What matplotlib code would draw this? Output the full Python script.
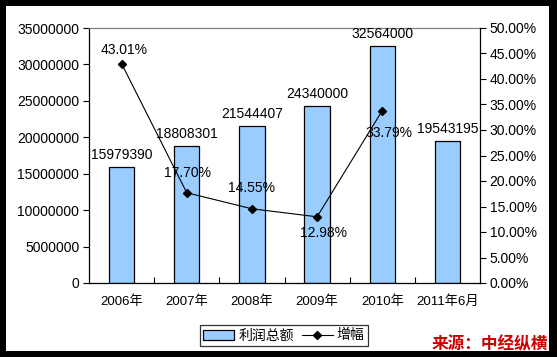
import matplotlib
matplotlib.use("Agg")
import matplotlib.pyplot as plt
from matplotlib.lines import Line2D
from matplotlib.patches import Patch
from matplotlib.ticker import FuncFormatter, MultipleLocator

plt.rcParams['font.family'] = ['Liberation Sans', 'Noto Sans CJK SC', 'DejaVu Sans']

categories = ["2006年", "2007年", "2008年", "2009年", "2010年", "2011年6月"]
profit = [15979390, 18808301, 21544407, 24340000, 32564000, 19543195]
growth = [43.01, 17.70, 14.55, 12.98, 33.79]
growth_text = ["43.01%", "17.70%", "14.55%", "12.98%", "33.79%"]
# label offsets in pixels (dx, dy) relative to the point
growth_offsets = [(3, 14), (1, 20), (0, 21), (6, -16), (7, -22)]

W, H = 557, 357
fig = plt.figure(figsize=(W / 100, H / 100), dpi=100, facecolor="black")

# white card inside the black frame
bg = fig.add_axes([6 / W, 6 / H, 543 / W, 345 / H], zorder=-10)
bg.set_facecolor("white")
bg.set_xticks([])
bg.set_yticks([])
for s in bg.spines.values():
    s.set_visible(False)

ax = fig.add_axes([89 / W, 1 - 283 / H, 391 / W, 255 / H])
ax.set_facecolor("white")
x = list(range(len(categories)))
ax.bar(x, profit, width=0.39, color="#99CCFF", edgecolor="black", linewidth=0.9, zorder=2)
ax.set_xlim(-0.5, len(categories) - 0.5)
ax.set_ylim(0, 35000000)
ax.yaxis.set_major_locator(MultipleLocator(5000000))
ax.yaxis.set_major_formatter(FuncFormatter(lambda v, p: f"{int(v)}"))
ax.set_xticks(x)
ax.set_xticklabels(categories)
ax.set_xticks([i + 0.5 for i in range(len(categories) - 1)], minor=True)
ax.tick_params(axis="x", which="major", length=0, pad=9, labelsize=9.5)
ax.tick_params(axis="x", which="minor", direction="in", length=4, width=0.8)
ax.tick_params(axis="y", direction="out", length=4, width=0.8, labelsize=10, pad=3)

for s in ["left", "bottom"]:
    ax.spines[s].set_color("black")
    ax.spines[s].set_linewidth(0.9)
ax.spines["top"].set_color("#808080")
ax.spines["top"].set_linewidth(0.9)
ax.spines["right"].set_visible(False)

for xi, v in zip(x, profit):
    ax.annotate(f"{v}", (xi, v), xytext=(0, 5), textcoords="offset pixels",
                ha="center", va="bottom", fontsize=10, zorder=5)

ax2 = ax.twinx()
ax2.set_ylim(0, 50)
ax2.yaxis.set_major_locator(MultipleLocator(5))
ax2.yaxis.set_major_formatter(FuncFormatter(lambda v, p: f"{v:.2f}%"))
ax2.tick_params(axis="y", direction="out", length=4, width=0.8, labelsize=10, pad=3)
ax2.spines["right"].set_color("black")
ax2.spines["right"].set_linewidth(0.9)
for s in ["top", "left", "bottom"]:
    ax2.spines[s].set_visible(False)

gx = x[:len(growth)]
ax2.plot(gx, growth, color="black", linewidth=0.8, marker="D", markersize=4, zorder=4)
for xi, v, t, (dx, dy) in zip(gx, growth, growth_text, growth_offsets):
    ax2.annotate(t, (xi, v), xytext=(dx, dy), textcoords="offset pixels",
                 ha="center", va="center", fontsize=10)

handles = [Patch(facecolor="#99CCFF", edgecolor="black", linewidth=0.9),
           Line2D([], [], color="black", linewidth=0.8, marker="D", markersize=4)]
leg = fig.legend(handles, ["利润总额", "增幅"], loc="center",
                 bbox_to_anchor=(284 / W, 1 - 335.5 / H), ncol=2, fontsize=10,
                 frameon=True, fancybox=False, handlelength=2.2, handletextpad=0.3,
                 columnspacing=0.6, borderpad=0.25, borderaxespad=0)
leg.get_frame().set_edgecolor("black")
leg.get_frame().set_linewidth(0.9)

fig.text(490 / W, 1 - 344 / H, "来源：中经纵横", color="#CC0000", fontsize=12,
         fontweight="bold", style="italic", ha="center", va="center",
         family=["Noto Sans CJK SC"])

fig.savefig("out.png", dpi=100, facecolor="black")
